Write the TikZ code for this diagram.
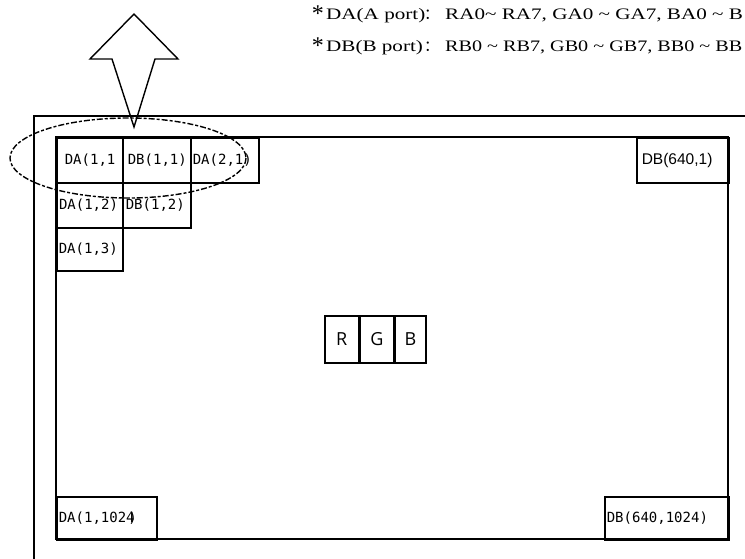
\documentclass[tikz,border=0pt]{standalone}
\usepackage{fontspec}
\usepackage{graphicx}
\setmainfont{Liberation Serif}
\newfontfamily\cellfont{DejaVu Sans Mono}
\newfontfamily\arialfont{Liberation Sans}
\newfontfamily\rgbfont{Open Sans}
\newfontfamily\cjkfont{Noto Sans CJK SC}
\usetikzlibrary{calc}
\tikzset{
  frame/.style={line width=1.8pt},
  cellbox/.style={draw, line width=1.6pt, rectangle, inner ysep=0pt, align=left,
    font=\cellfont\fontsize{14}{14}\selectfont, anchor=north west},
  rgbbox/.style={draw, line width=1.6pt, rectangle, inner sep=0pt, minimum width=33pt,
    minimum height=47pt, font=\rgbfont\fontsize{18}{18}\selectfont, anchor=north west},
  toptext/.style={anchor=base west, inner sep=0pt, font=\fontsize{16}{16}\selectfont},
  startext/.style={anchor=base east, inner sep=0pt, font=\fontsize{24}{24}\selectfont},
  bigarrow/.style={draw, line width=1.4pt, line join=miter},
  ring/.style={draw, line width=1.4pt, dash pattern=on 6pt off 2pt on 3pt off 2pt}
}
\begin{document}
\begin{tikzpicture}[x=1pt,y=-1pt]
\useasboundingbox (0,0) rectangle (745,558);
\clip (0,0) rectangle (745,558);

% frames
\draw[frame] (34,570) -- (34,116) -- (760,116);
\draw[frame] (56,137) rectangle (728,539);

% cells
\node[cellbox, inner xsep=8pt, text width=50pt, minimum height=45pt] (da11) at (56,137) {DA(1,1};
\node[cellbox, inner xsep=5pt, text width=58pt, minimum height=45pt] (db11) at (122,137) {DB(1,1)};
\node[cellbox, inner xsep=2pt, text width=64pt, minimum height=45pt] (da21) at (190,137) {DA(2,1)};
\node[cellbox, inner xsep=2pt, text width=62pt, minimum height=45pt, line width=2pt] (da12) at (56,182) {DA(1,2)};
\node[cellbox, inner xsep=3pt, text width=62pt, minimum height=45pt] (db12) at (122,182) {DB(1,2)};
\node[cellbox, inner xsep=2pt, text width=62pt, minimum height=43pt] (da13) at (56,227) {DA(1,3)};
\node[cellbox, inner xsep=5pt, text width=82pt, minimum height=45pt,
  font=\arialfont\fontsize{15.5}{15.5}\selectfont] (db6401) at (636,137) {DB(640,1)};
\node[cellbox, inner xsep=2pt, text width=96pt, minimum height=43pt] (da11024) at (56,496) {DA(1,1024\kern-0.45em)};
\node[cellbox, inner xsep=2pt, text width=120pt, minimum height=43pt] (db6401024) at (604,496) {DB(640,1024)};

% RGB
\node[rgbbox, minimum width=34pt] (r) at (324,315) {R};
\node[rgbbox, minimum width=33pt] (g) at (r.north east) {G};
\node[rgbbox, minimum width=31pt] (b) at (g.north east) {B};

% ellipse and arrow
\draw[ring] (128,158) ellipse [x radius=118, y radius=40];
\draw[bigarrow] (134,14) -- (178,59) -- (155,59) -- (134,127) -- (112,59) -- (90,59) -- cycle;

% top texts
\node[startext] (s1) at (324,21) {*};
\node[toptext] (l1) at (326,19) {\scalebox{1.32}[1]{DA(A port)}};
\node[toptext, font=\cjkfont\fontsize{15}{15}\selectfont] (c1) at (424,19) {：};
\node[toptext] (v1) at (445,19) {\scalebox{1.32}[1]{RA0\textasciitilde{} RA7, GA0 \textasciitilde{} GA7, BA0 \textasciitilde{} B}};

\node[startext] (s2) at (324,53) {*};
\node[toptext] (l2) at (326,51) {\scalebox{1.32}[1]{DB(B port)}};
\node[toptext, font=\cjkfont\fontsize{15}{15}\selectfont] (c2) at (424,51) {：};
\node[toptext] (v2) at (445,51) {\scalebox{1.26}[1]{RB0 \textasciitilde{} RB7, GB0 \textasciitilde{} GB7, BB0 \textasciitilde{} BB}};
\end{tikzpicture}
\end{document}
